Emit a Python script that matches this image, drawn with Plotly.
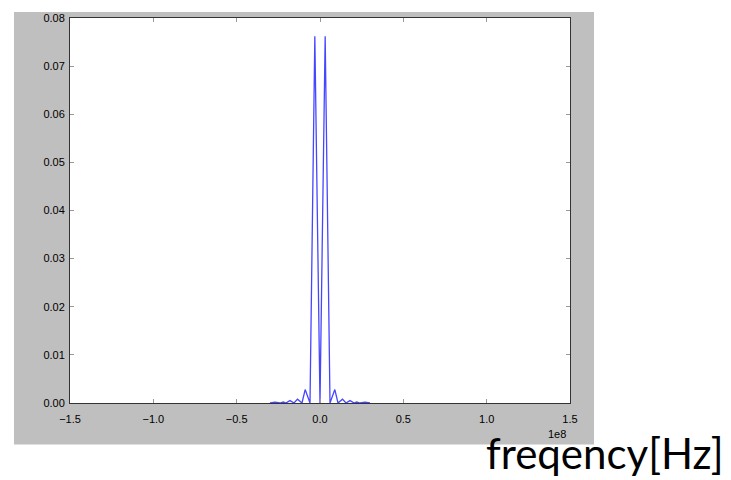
import plotly.graph_objects as go

# Spectrum magnitude (frequency in Hz)
freq_hz = [-3.0e7, -2.7e7, -2.4e7, -2.2e7, -2.05e7, -1.8e7, -1.56e7, -1.35e7,
           -1.08e7, -8.9e6, -6.0e6, -3.1e6, 0.0, 3.1e6, 6.0e6, 8.9e6,
           1.08e7, 1.35e7, 1.56e7, 1.8e7, 2.05e7, 2.2e7, 2.4e7, 2.7e7, 3.0e7]
amplitude = [0.0, 0.00015, 0.0, 0.0002, 0.0, 0.0005, 0.0, 0.0008,
             0.0, 0.0028, 0.0, 0.0762, 0.0, 0.0762, 0.0, 0.0028,
             0.0, 0.0008, 0.0, 0.0005, 0.0, 0.0002, 0.0, 0.00015, 0.0]

x_tick_vals = [-1.5e8, -1.0e8, -0.5e8, 0.0, 0.5e8, 1.0e8, 1.5e8]
x_tick_text = ["\u22121.5", "\u22121.0", "\u22120.5", "0.0", "0.5", "1.0", "1.5"]
y_tick_vals = [0.00, 0.01, 0.02, 0.03, 0.04, 0.05, 0.06, 0.07, 0.08]
y_tick_text = ["0.00", "0.01", "0.02", "0.03", "0.04", "0.05", "0.06", "0.07", "0.08"]

W, H = 731, 480
L, R, T, B = 70, 161, 14, 77
pw, ph = W - L - R, H - T - B

def px_x(x):
    return (x - L) / pw

def px_y(y):
    return (H - B - y) / ph

fig = go.Figure()
fig.add_trace(go.Scatter(x=freq_hz, y=amplitude, mode="lines",
                         line=dict(color="rgb(70,70,255)", width=1.3),
                         hoverinfo="skip", showlegend=False))

tick_font = dict(family="Liberation Sans, Arial, sans-serif", size=11, color="black")
axis_common = dict(showgrid=False, zeroline=False, showline=True, linecolor="#333333",
                   linewidth=1, mirror="ticks", ticks="inside", ticklen=4,
                   tickcolor="#999999", tickfont=tick_font)

fig.update_xaxes(range=[-1.5e8, 1.5e8], tickvals=x_tick_vals, ticktext=x_tick_text,
                 ticklabelstandoff=6, **axis_common)
fig.update_yaxes(range=[0, 0.08], tickvals=y_tick_vals, ticktext=y_tick_text,
                 ticklabelstandoff=2, **axis_common)

fig.update_layout(
    width=W, height=H,
    margin=dict(l=L, r=R, t=T, b=B, pad=0),
    paper_bgcolor="white", plot_bgcolor="white",
    shapes=[
        dict(type="rect", xref="paper", yref="paper", layer="below",
             x0=px_x(14), x1=px_x(594), y0=px_y(445), y1=px_y(8),
             fillcolor="#bfbfbf", line=dict(width=0)),
        dict(type="rect", xref="paper", yref="paper", layer="below",
             x0=0, x1=1, y0=0, y1=1, fillcolor="white", line=dict(width=0)),
    ],
    annotations=[
        dict(text="1e8", xref="paper", yref="paper", x=px_x(557), y=px_y(434),
             xanchor="center", yanchor="middle", showarrow=False, font=tick_font),
        dict(text="freqency[Hz]", xref="paper", yref="paper", x=px_x(726), y=px_y(454),
             xanchor="right", yanchor="middle", showarrow=False,
             font=dict(family="Lato, Open Sans, sans-serif", size=42, color="black")),
    ],
)

fig.write_html("out.html", config={"displayModeBar": False},
               post_script="document.body.style.margin='0px';document.body.style.overflow='hidden';")
